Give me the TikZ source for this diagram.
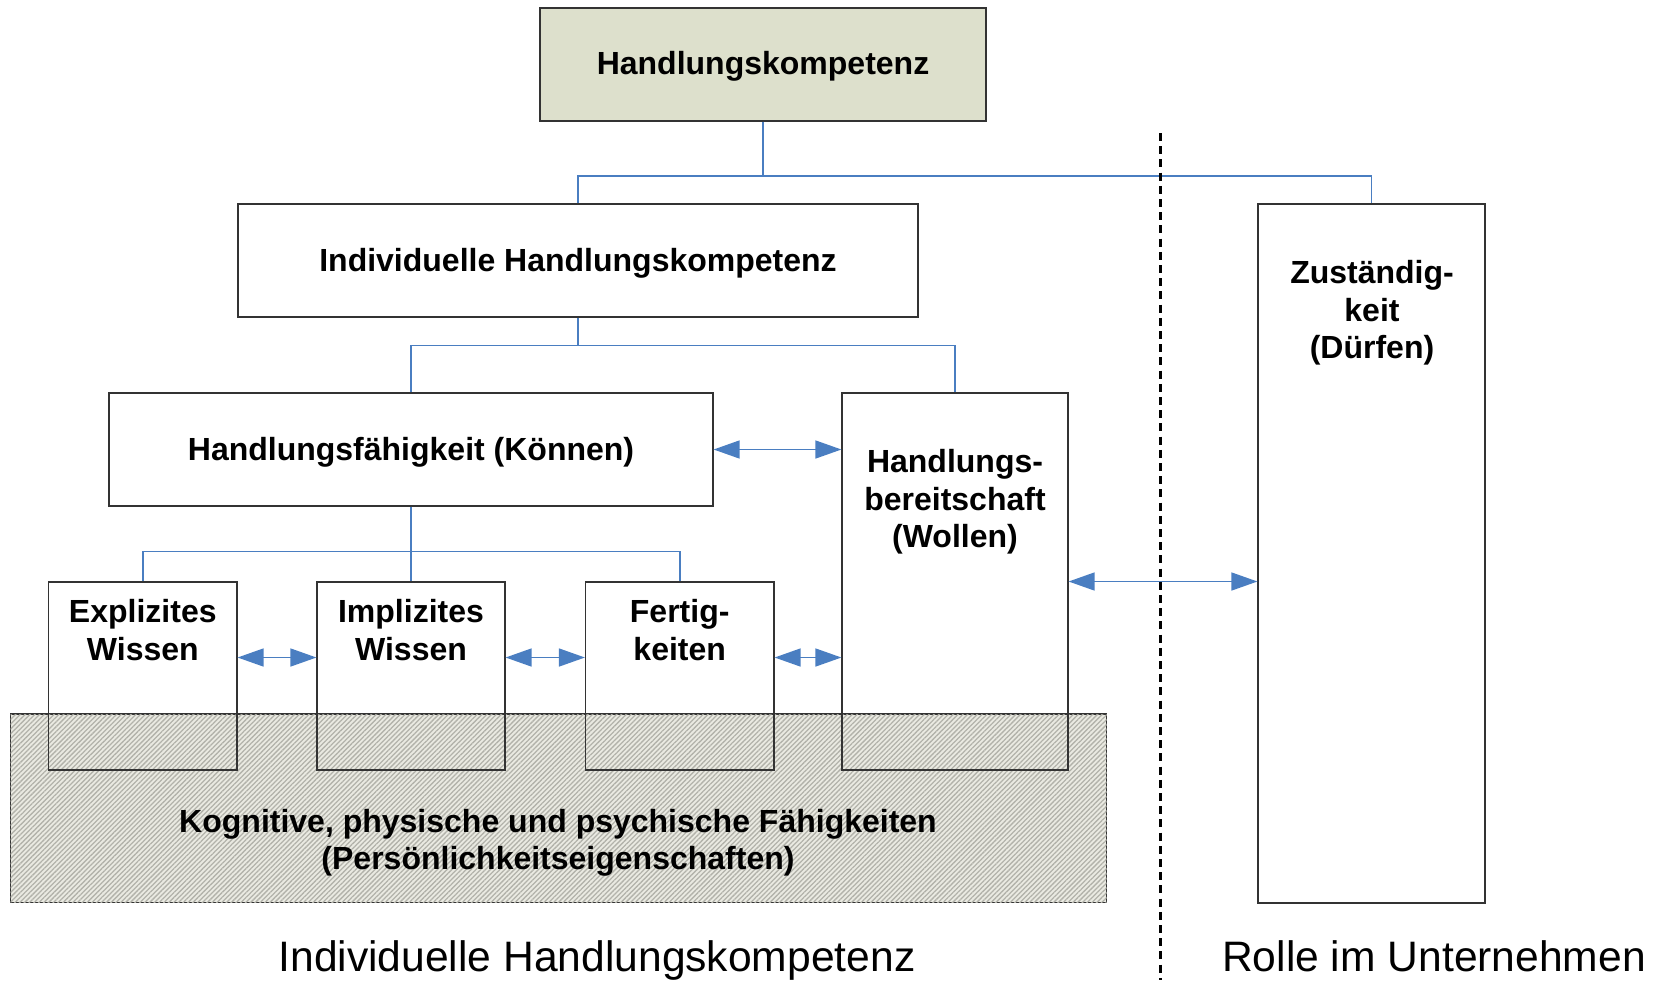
\documentclass[tikz,border=0pt]{standalone}
\usepackage{fontspec}
\setmainfont{Liberation Sans}
\usetikzlibrary{arrows.meta,fit,patterns.meta}
\definecolor{linkblue}{RGB}{74,126,193}
\definecolor{topfill}{RGB}{221,224,204}
\definecolor{hatchbg}{RGB}{234,234,226}
\definecolor{hatchline}{RGB}{178,178,170}

\begin{document}
\begin{tikzpicture}[x=0.5pt,y=-0.5pt,
  box/.style={draw=black!80, line width=0.6pt, inner sep=0pt},
  lbl/.style={font=\fontsize{16}{18.7}\selectfont\bfseries, align=center, inner sep=0pt},
  caption/.style={font=\fontsize{21.3}{25}\selectfont, inner sep=0pt, anchor=base},
  conn/.style={draw=linkblue, line width=0.75pt},
  dblarrow/.style={conn, {Triangle[length=13pt,width=9pt]}-{Triangle[length=13pt,width=9pt]}},
]
\useasboundingbox (0,0) rectangle (1657,980);

% shaded base: personality traits
\node[box, fit={(10.6,714) (1106.5,902.5)}, fill=hatchbg,
      postaction={pattern={Lines[angle=45,distance=1.7pt,line width=0.65pt]}, pattern color=hatchline}] (base) {};

% boxes
\node[box, fill=topfill, fit={(540,8) (986,121)}] (top) {};
\node[box, fit={(238,204) (918,317)}] (indiv) {};
\node[box, fit={(109,393) (713,506)}] (faeh) {};
\node[box, fit={(842,393) (1068,770)}] (bereit) {};
\node[box, fit={(1258,204) (1485,903)}] (zust) {};
\node[box, fit={(48.6,582) (237,770)}] (expl) {};
\node[box, fit={(317,582) (505,770)}] (impl) {};
\node[box, fit={(585.5,582) (774,770)}] (fert) {};

% texts
\node[lbl] (ttop) at (763,66.5) {Handlungskompetenz};
\node[lbl] (tindiv) at (578,263.5) {Individuelle Handlungskompetenz};
\node[lbl] (tfaeh) at (411,452.5) {Handlungsfähigkeit (Können)};
\node[lbl] (tbereit) at (955,502) {Handlungs-\\bereitschaft\\(Wollen)};
\node[lbl] (tzust) at (1372,313) {Zuständig-\\keit\\(Dürfen)};
\node[lbl] (texpl) at (142.8,630) {Explizites\\Wissen};
\node[lbl] (timpl) at (411,630) {Implizites\\Wissen};
\node[lbl] (tfert) at (679.7,630) {Fertig-\\keiten};
\node[lbl] (tbase) at (558,842.5) {Kognitive, physische und psychische Fähigkeiten\\(Persönlichkeitseigenschaften)};

% captions
\node[caption] (cap1) at (597,971) {Individuelle Handlungskompetenz};
\node[caption] (cap2) at (1434,971) {Rolle im Unternehmen};

% tree connectors
\coordinate (j1) at (763,176);
\coordinate (j2) at (578,345.6);
\coordinate (j3) at (411,551.6);
\draw[conn] (top.south) -- (j1);
\draw[conn] (indiv.north) |- (j1) -| (zust.north);
\draw[conn] (indiv.south) -- (j2);
\draw[conn] (faeh.north) |- (j2) -| (bereit.north);
\draw[conn] (faeh.south) -- (impl.north);
\draw[conn] (expl.north) |- (j3) -| (fert.north);

% double arrows
\draw[dblarrow] (faeh.east) -- (faeh.east -| bereit.west);
\draw[dblarrow] (bereit.east) -- (bereit.east -| zust.west);
\draw[dblarrow] ([yshift=9.25pt]expl.east) -- ([yshift=9.25pt]impl.west);
\draw[dblarrow] ([yshift=9.25pt]impl.east) -- ([yshift=9.25pt]fert.west);
\draw[dblarrow] ([yshift=9.25pt]fert.east) -- ([yshift=9.25pt]fert.east -| bereit.west);

% separator
\draw[black, line width=1.5pt, dash pattern=on 4pt off 2.6pt] (1160,133) -- (1160,980);
\end{tikzpicture}
\end{document}
